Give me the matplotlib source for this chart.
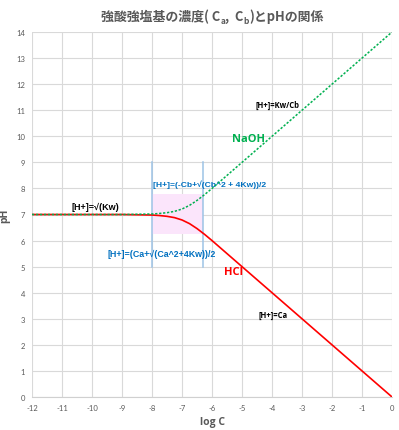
import matplotlib.pyplot as plt
import matplotlib.patches as mpatches

plt.rcParams['font.family'] = ['Lato', 'DejaVu Sans']
plt.rcParams['axes.unicode_minus'] = False

# values
log_c = [-12, -11, -10, -9, -8.5, -8, -7.75, -7.5, -7.25, -7, -6.75, -6.5, -6.25,
         -6, -5.5, -5, -4, -3, -2, -1, 0]
ph_hcl = [7.00, 7.00, 7.00, 7.00, 6.99, 6.98, 6.96, 6.93, 6.88, 6.79, 6.65, 6.46, 6.24,
          6.00, 5.50, 5.00, 4.00, 3.00, 2.00, 1.00, 0.00]
ph_naoh = [7.00, 7.00, 7.00, 7.00, 7.01, 7.02, 7.04, 7.07, 7.12, 7.21, 7.35, 7.54, 7.76,
           8.00, 8.50, 9.00, 10.00, 11.00, 12.00, 13.00, 14.00]
x_ticks = list(range(-12, 1))
y_ticks = list(range(0, 15))
region_x = [-8, -6.3]
region_y = [6.25, 7.8]

gray = '#595959'
ann = ['Open Sans', 'DejaVu Sans']
narrow = ['Liberation Sans Narrow', 'Liberation Sans', 'DejaVu Sans']
fig = plt.figure(figsize=(3.99, 4.31), dpi=100)
ax = fig.add_axes([0.0802, 0.0766, 0.9023, 0.8468])

ax.add_patch(mpatches.Rectangle((region_x[0], region_y[0]), region_x[1] - region_x[0],
                                region_y[1] - region_y[0], color='#FBE5FB', lw=0, zorder=1))
for xv in region_x:
    ax.plot([xv, xv], [5, 9], color='#9DC3E6', lw=1.1, zorder=2)

ax.plot(log_c, ph_hcl, color='#FF0000', lw=1.2, zorder=3)
ax.plot(log_c, ph_naoh, color='#00B050', lw=1.1, ls=(0, (1.5, 1.1)), zorder=4)

ax.set_xlim(-12, 0)
ax.set_ylim(0, 14)
ax.set_xticks(x_ticks)
ax.set_yticks(y_ticks)
ax.tick_params(length=0, labelsize=5.5, labelcolor=gray, pad=5)
ax.grid(color='#D9D9D9', lw=0.8)
ax.set_axisbelow(True)
for s in ['top', 'right', 'left']:
    ax.spines[s].set_visible(False)
ax.spines['bottom'].set_color('#D0D0D0')

ax.set_xlabel('log C', fontsize=7.5, fontweight='bold', color=gray, labelpad=4, family=ann)
ax.set_ylabel('pH', fontsize=7.5, fontweight='bold', color=gray, labelpad=4, family=ann)

# title with subscripts, built from pieces
cjk = ['Noto Sans CJK JP', 'DejaVu Sans']
pieces = [('強酸強塩基の濃度( C', 0, 9.3), ('a', -0.006, 6), (',  C', 0, 9.3),
          ('b', -0.006, 6), (')とpHの関係', 0, 9.3)]
renderer = fig.canvas.get_renderer()
texts = []
xpos = 0.0
for txt, dy, size in pieces:
    t = fig.text(xpos, 0.963 + dy, txt, fontsize=size, fontweight='bold', color=gray,
                 family=cjk, ha='left', va='baseline')
    texts.append(t)
    xpos += t.get_window_extent(renderer).width / fig.bbox.width
shift = 0.532 - xpos / 2
for t in texts:
    t.set_x(t.get_position()[0] + shift)
    t.set_y(t.get_position()[1] - 0.012)

ax.text(-9.9, 7.3, '[H+]=√(Kw)', fontsize=6.5, fontweight='bold', color='black',
        ha='center', va='center', family=narrow)
ax.text(-7.97, 8.17, '[H+]=(-Cb+√(Cb^2 + 4Kw))/2', fontsize=6.1, fontweight='bold',
        color='#0070C0', ha='left', va='center', family=narrow)
ax.text(-9.5, 5.52, '[H+]=(Ca+√(Ca^2+4Kw))/2', fontsize=6.4, fontweight='bold',
        color='#0070C0', ha='left', va='center', family=narrow)
ax.text(-4.8, 9.9, 'NaOH', fontsize=8, fontweight='bold', color='#00B050',
        ha='center', va='center', family=ann)
ax.text(-5.27, 4.83, 'HCl', fontsize=8, fontweight='bold', color='#FF0000',
        ha='center', va='center', family=ann)
ax.text(-3.83, 11.24, '[H+]=Kw/Cb', fontsize=5.5, fontweight='bold', color='black',
        ha='center', va='center', family=ann)
ax.text(-3.97, 3.15, '[H+]=Ca', fontsize=5.5, fontweight='bold', color='black',
        ha='center', va='center', family=ann)

fig.savefig('out.png', dpi=100)
